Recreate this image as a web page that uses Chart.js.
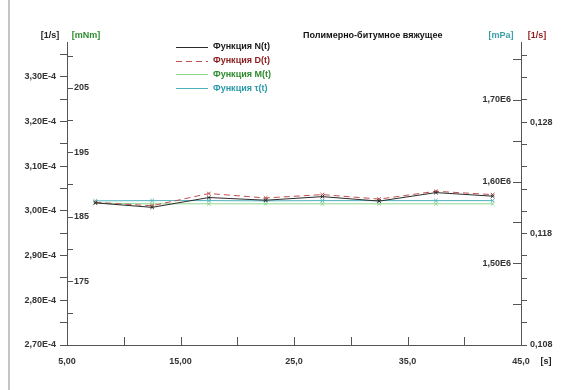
<!DOCTYPE html>
<html lang="ru">
<head>
<meta charset="utf-8">
<script src="https://cdn.jsdelivr.net/npm/chart.js@4.4.1/dist/chart.umd.min.js"></script>
<style>
  html, body { margin: 0; padding: 0; background: #fff; }
</style>
</head>
<body>
<canvas id="grafico" width="573" height="390"></canvas>
<script>
// Время измерения, с
const tempos = [7.5, 12.5, 17.5, 22.5, 27.5, 32.5, 37.5, 42.5];
// Функция N(t), 1/s (левая ось)
const funcN = [3.018e-4, 3.008e-4, 3.030e-4, 3.024e-4, 3.032e-4, 3.022e-4, 3.041e-4, 3.033e-4];
// Функция D(t), 1/s (правая ось)
const funcD = [0.1208, 0.1205, 0.1216, 0.1212, 0.1215, 0.1211, 0.1218, 0.1215];
// Функция M(t), mNm
const funcM = [187.1, 187.0, 187.0, 187.0, 187.0, 187.0, 187.0, 187.0];
// Функция τ(t), mPa
const funcT = [1.5765e6, 1.5768e6, 1.5768e6, 1.5765e6, 1.5768e6, 1.5768e6, 1.5768e6, 1.5768e6];

// escala do tempo
const valoresX = [5, 15, 25, 35, 45];
const rotulosX = ["5,00", "15,00", "25,0", "35,0", "45,0"];

// marcas e rótulos de cada eixo vertical
const marcasN = [2.70e-4, 2.75e-4, 2.80e-4, 2.85e-4, 2.90e-4, 2.95e-4, 3.00e-4, 3.05e-4, 3.10e-4, 3.15e-4, 3.20e-4, 3.25e-4, 3.30e-4, 3.35e-4];
const rotulosN = ["2,70E-4", "", "2,80E-4", "", "2,90E-4", "", "3,00E-4", "", "3,10E-4", "", "3,20E-4", "", "3,30E-4", ""];
const marcasM = [170, 175, 180, 185, 190, 195, 200, 205, 210];
const rotulosM = ["", "175", "", "185", "", "195", "", "205", ""];
const marcasT = [1.45e6, 1.50e6, 1.55e6, 1.60e6, 1.65e6, 1.70e6, 1.75e6];
const rotulosT = ["", "1,50E6", "", "1,60E6", "", "1,70E6", ""];
const marcasD = [0.108, 0.110, 0.112, 0.114, 0.116, 0.118, 0.120, 0.122, 0.124, 0.126, 0.128, 0.130, 0.132, 0.134];
const rotulosD = ["0,108", "", "", "", "", "0,118", "", "", "", "", "0,128", "", "", ""];

const FONTE = "'Liberation Sans', Arial, sans-serif";

const series = [
    { nome: "Функция N(t)", dados: funcN, eixo: "yN", linha: "#2b2b2b", texto: "#1a1a1a", traco: [] },
    { nome: "Функция D(t)", dados: funcD, eixo: "yD", linha: "#c0504d", texto: "#8b1c1c", traco: [6, 4] },
    { nome: "Функция M(t)", dados: funcM, eixo: "yM", linha: "#8fd88f", texto: "#2e8b2e", traco: [] },
    { nome: "Функция τ(t)", dados: funcT, eixo: "yT", linha: "#4fb3bd", texto: "#2a9aa8", traco: [] },
];

const fonteTicks = { family: FONTE, size: 9, weight: "bold" };

// marcas externas desenhadas pelo próprio Chart.js
function gradeExterna(comprimento) {
    return { drawOnChartArea: false, drawTicks: true, tickLength: comprimento, color: "#555" };
}

function fixarMarcas(marcas) {
    return (sc) => { sc.ticks = marcas.map((v) => ({ value: v })); };
}

// moldura, marcas internas, unidades, título e legenda
const decoracao = {
    id: "decoracao",
    beforeDraw(chart) {
        const c = chart.ctx;
        c.save();
        c.fillStyle = "#fff";
        c.fillRect(0, 0, chart.width, chart.height);
        c.strokeStyle = "#c4c4c4";
        c.lineWidth = 2;
        c.beginPath();
        c.moveTo(9, 0);
        c.lineTo(9, chart.height);
        c.stroke();
        c.restore();
    },
    afterDraw(chart) {
        const { ctx: c, chartArea: a, scales: s } = chart;
        c.save();
        c.strokeStyle = "#555";
        c.lineWidth = 1;
        c.beginPath();
        s.x.ticks.forEach((t) => {
            const px = Math.round(s.x.getPixelForValue(t.value)) + 0.5;
            c.moveTo(px, a.bottom);
            c.lineTo(px, a.bottom - 8);
        });
        s.yM.ticks.forEach((t) => {
            const py = Math.round(s.yM.getPixelForValue(t.value)) + 0.5;
            c.moveTo(a.left, py);
            c.lineTo(a.left + 6, py);
        });
        s.yT.ticks.forEach((t) => {
            const py = Math.round(s.yT.getPixelForValue(t.value)) + 0.5;
            c.moveTo(a.right - 8, py);
            c.lineTo(a.right, py);
        });
        c.stroke();

        c.font = "bold 9px " + FONTE;
        c.textBaseline = "middle";
        c.textAlign = "center";
        const yUn = a.top - 6;
        c.fillStyle = "#222";
        c.fillText("[1/s]", a.left - 17, yUn);
        c.fillStyle = "#2e8b2e";
        c.fillText("[mNm]", a.left + 19, yUn);
        c.fillStyle = "#3aa0a8";
        c.fillText("[mPa]", a.right - 20, yUn);
        c.fillStyle = "#8b1c1c";
        c.fillText("[1/s]", a.right + 16, yUn);
        c.fillStyle = "#222";
        c.fillText("[s]", a.right + 25, a.bottom + 17);

        c.textAlign = "left";
        c.fillStyle = "#111";
        c.fillText("Полимерно-битумное вяжущее", 303, 36);

        series.forEach((sr, i) => {
            const y = 47 + i * 13.7;
            c.strokeStyle = sr.linha;
            c.setLineDash(sr.traco);
            c.beginPath();
            c.moveTo(176, Math.round(y) + 0.5);
            c.lineTo(208, Math.round(y) + 0.5);
            c.stroke();
            c.setLineDash([]);
            c.fillStyle = sr.texto;
            c.fillText(sr.nome, 213, y);
        });
        c.restore();
    },
};

new Chart(document.getElementById("grafico"), {
    type: "line",
    data: {
        datasets: series.map((sr) => ({
            label: sr.nome,
            data: tempos.map((t, i) => ({ x: t, y: sr.dados[i] })),
            yAxisID: sr.eixo,
            borderColor: sr.linha,
            borderDash: sr.traco,
            borderWidth: 1,
            tension: 0,
            pointStyle: "crossRot",
            pointRadius: 2.5,
            pointBorderColor: sr.linha,
            pointBorderWidth: 1,
        })),
    },
    options: {
        responsive: false,
        animation: false,
        layout: { padding: { left: 17, right: 12, top: 42, bottom: 20 } },
        plugins: { legend: { display: false }, tooltip: { enabled: false } },
        scales: {
            x: {
                type: "linear",
                min: 5,
                max: 45,
                grid: { display: false, drawTicks: false },
                border: { display: true, color: "#555" },
                ticks: {
                    stepSize: 5,
                    autoSkip: false,
                    maxRotation: 0,
                    padding: 11,
                    font: fonteTicks,
                    color: "#333",
                    callback: (v) => {
                        const i = valoresX.indexOf(Math.round(v * 100) / 100);
                        return i >= 0 ? rotulosX[i] : "";
                    },
                },
                afterFit: (sc) => { sc.height = 25; },
            },
            yN: {
                type: "linear",
                position: "left",
                weight: 10,
                min: 2.70e-4,
                max: 3.378e-4,
                grid: gradeExterna(7),
                border: { display: true, color: "#555" },
                afterBuildTicks: fixarMarcas(marcasN),
                ticks: {
                    autoSkip: false,
                    padding: 4,
                    font: fonteTicks,
                    color: "#333",
                    callback: (v, i) => rotulosN[i],
                },
                afterFit: (sc) => { sc.width = 50; },
            },
            yM: {
                type: "linear",
                position: "left",
                weight: 0,
                min: 165.1,
                max: 212.1,
                grid: { display: false, drawTicks: false },
                border: { display: false },
                afterBuildTicks: fixarMarcas(marcasM),
                ticks: {
                    mirror: true,
                    autoSkip: false,
                    padding: 7,
                    font: fonteTicks,
                    color: "#333",
                    callback: (v, i) => rotulosM[i],
                },
                afterFit: (sc) => { sc.width = 0; },
            },
            yT: {
                type: "linear",
                position: "right",
                weight: 0,
                min: 1.40e6,
                max: 1.771e6,
                grid: { display: false, drawTicks: false },
                border: { display: false },
                afterBuildTicks: fixarMarcas(marcasT),
                ticks: {
                    mirror: true,
                    autoSkip: false,
                    padding: -10,
                    font: fonteTicks,
                    color: "#333",
                    callback: (v, i) => rotulosT[i],
                },
                afterFit: (sc) => { sc.width = 0; },
            },
            yD: {
                type: "linear",
                position: "right",
                weight: 10,
                min: 0.108,
                max: 0.1352,
                grid: gradeExterna(6),
                border: { display: true, color: "#555" },
                afterBuildTicks: fixarMarcas(marcasD),
                ticks: {
                    autoSkip: false,
                    padding: 3,
                    font: fonteTicks,
                    color: "#333",
                    callback: (v, i) => rotulosD[i],
                },
                afterFit: (sc) => { sc.width = 40; },
            },
        },
    },
    plugins: [decoracao],
});
</script>
</body>
</html>
